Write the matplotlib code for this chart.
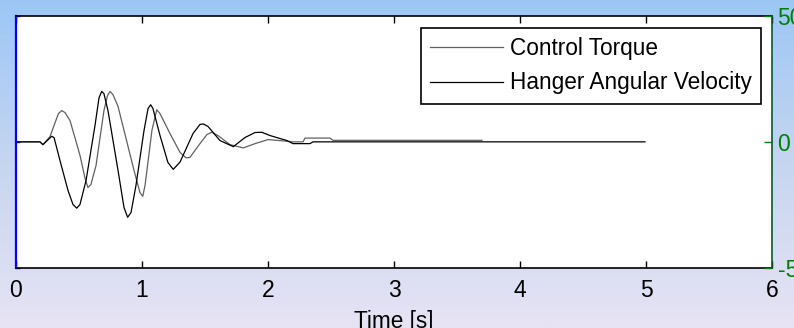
import numpy as np
import matplotlib
matplotlib.use("Agg")
import matplotlib.pyplot as plt
from matplotlib.colors import LinearSegmentedColormap

# ---- data ----
torque_t = [0.0, 0.19, 0.214, 0.27, 0.31, 0.337, 0.363, 0.389, 0.429, 0.508, 0.548, 0.571,
            0.595, 0.635, 0.698, 0.726, 0.746, 0.77, 0.81, 0.937, 0.984, 1.006, 1.024, 1.079,
            1.117, 1.143, 1.222, 1.302, 1.349, 1.38, 1.46, 1.516, 1.553, 1.603, 1.698, 1.804,
            1.897, 2.0, 2.095, 2.198, 2.278, 2.294, 2.492, 2.516, 3.698]
torque_v = [0.0, 0.0, -1.1, 2.1, 7.6, 11.2, 12.4, 11.6, 8.4, -5.4, -14.5, -18.1,
            -16.9, -9.4, 12.4, 18.3, 20.0, 18.7, 14.0, -11.4, -20.1, -21.6, -17.3, 4.6,
            12.7, 11.2, 3.3, -4.2, -6.3, -6.2, -0.7, 2.9, 3.8, 2.5, -1.1, -2.4,
            -0.7, 0.9, 0.5, 0.0, 0.0, 1.5, 1.5, 0.6, 0.6]

vel_t = [0.0, 0.19, 0.214, 0.283, 0.302, 0.349, 0.413, 0.452, 0.482, 0.508, 0.556, 0.627,
         0.659, 0.68, 0.698, 0.73, 0.81, 0.857, 0.886, 0.913, 0.952, 1.016, 1.048, 1.069,
         1.087, 1.143, 1.206, 1.248, 1.302, 1.405, 1.46, 1.487, 1.524, 1.619, 1.725, 1.817,
         1.897, 1.95, 2.016, 2.151, 2.198, 2.333, 2.357, 4.992]
vel_v = [0.0, 0.0, -1.1, 2.2, 1.7, -7.4, -19.3, -24.8, -26.3, -24.8, -15.3, 6.5,
         17.5, 20.0, 19.1, 12.4, -11.4, -26.0, -29.9, -28.0, -17.3, 4.5, 13.2, 14.7,
         13.2, 2.5, -8.2, -10.9, -8.0, 3.3, 6.9, 7.1, 6.1, 0.5, -1.9, 1.7,
         3.7, 3.8, 2.5, 0.5, -0.7, -0.7, 0.0, 0.0]

x_ticks = [0, 1, 2, 3, 4, 5, 6]
right_ticks = [-50, 0, 50]
labels = ["Control Torque", "Hanger Angular Velocity"]
xlabel = "Time [s]"

plt.rcParams['font.family'] = ['Liberation Sans', 'DejaVu Sans']

W, H = 794, 328
fig = plt.figure(figsize=(W / 100, H / 100), dpi=100)

# background gradient
bg = fig.add_axes([0, 0, 1, 1], zorder=-10)
cmap = LinearSegmentedColormap.from_list("bg", ["#9CC7F5", "#C6D6F0", "#E7E3F4"])
grad = np.linspace(0, 1, 256).reshape(-1, 1)
bg.imshow(grad, aspect="auto", cmap=cmap, extent=[0, 1, 0, 1], origin="upper")
bg.set_axis_off()

left, right = 16 / W, 772 / W
top, bottom = 15.7 / H, 268 / H
ax = fig.add_axes([left, 1 - bottom, right - left, bottom - top])
ax.set_facecolor("white")

ax.plot(torque_t, torque_v, color="#606060", lw=0.9, label=labels[0])
ax.plot(vel_t, vel_v, color="black", lw=0.9, label=labels[1])

ax.set_xlim(0, 6)
ax.set_ylim(-50, 50)
ax.set_xticks(x_ticks)
ax.set_xticklabels([str(v) for v in x_ticks])
ax.tick_params(axis="x", direction="in", length=5, width=1, top=True, labelsize=16.5,
               pad=8, colors="black")
ax.set_yticks(right_ticks)
ax.tick_params(axis="y", direction="in", length=3, width=1, color="blue",
               labelleft=False)
ax.set_xlabel(xlabel, fontsize=16.3, labelpad=6)

for s in ["top", "bottom"]:
    ax.spines[s].set_color("black")
    ax.spines[s].set_linewidth(1.2)
ax.spines["left"].set_color("blue")
ax.spines["left"].set_linewidth(1.6)
ax.spines["right"].set_visible(False)

ax2 = ax.twinx()
ax2.set_ylim(-50, 50)
ax2.set_yticks(right_ticks)
ax2.set_yticklabels([str(v) for v in right_ticks])
ax2.tick_params(axis="y", direction="in", length=6, width=1, colors="green",
                labelsize=16.5, pad=4)
ax2.spines["right"].set_color("#0a5a2a")
ax2.spines["right"].set_linewidth(1.2)
for s in ["top", "bottom", "left"]:
    ax2.spines[s].set_visible(False)

leg = ax.legend(loc="upper right", bbox_to_anchor=(0.985, 0.950), borderaxespad=0,
                fontsize=16.3, handlelength=3.2, handletextpad=0.3, borderpad=0.4,
                labelspacing=0.49, frameon=True, fancybox=False, framealpha=1,
                edgecolor="black")
leg.get_frame().set_linewidth(1.2)

fig.savefig("out.png", dpi=100)
